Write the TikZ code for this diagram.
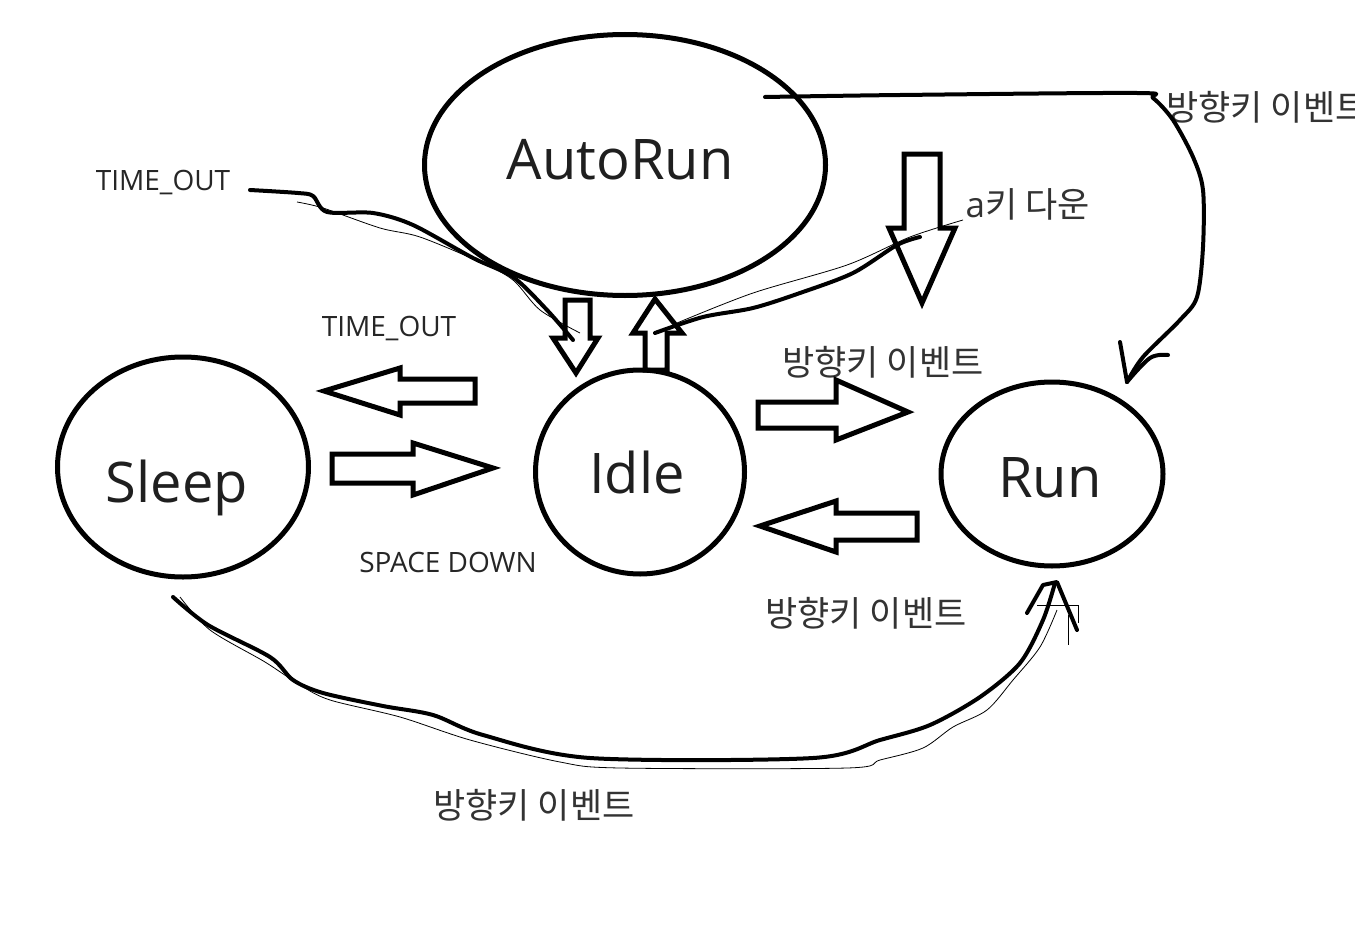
\documentclass[tikz,border=0pt]{standalone}
\usepackage{fontspec}
\setmainfont{Open Sans}
\newfontfamily\cjk{Noto Sans CJK KR}
\usetikzlibrary{shapes.geometric}
\tikzset{
  state/.style={ellipse, draw=black, line width=5pt, inner sep=0pt, outer sep=0pt},
  big/.style={text=black!88, font=\fontsize{56}{64}\selectfont},
  small/.style={text=black!85, font=\fontsize{28}{32}\selectfont},
  kor/.style={text=black!80, font=\cjk\fontsize{35}{40}\selectfont},
  blockarrow/.style={draw=black, line width=5pt, line join=miter},
  thickline/.style={draw=black, line width=4pt, line cap=round, line join=round},
  thinline/.style={draw=black, line width=0.8pt},
}
\begin{document}
\begin{tikzpicture}[x=1pt,y=-1pt]
\useasboundingbox (0,0) rectangle (1355,950);
\clip (0,0) rectangle (1355,950);
\fill[white] (0,0) rectangle (1355,950);

% states
\node[state, minimum width=401pt, minimum height=261pt] (autorun) at (625,165) {};
\node[state, minimum width=209pt, minimum height=204pt] (idle) at (640,472) {};
\node[state, minimum width=251pt, minimum height=220pt] (sleep) at (183,467) {};
\node[state, minimum width=222pt, minimum height=184pt] (run) at (1052,474) {};

\node[big] (tautorun) at (620,160) {AutoRun};
\node[big] (tidle) at (637,472) {Idle};
\node[big] (tsleep) at (177,488) {Sleep};
\node[big] (trun) at (1050,478) {Run};

% labels
\node[small] (l1) at (163,183) {TIME\_OUT};
\node[small] (l2) at (389,328) {TIME\_OUT};
\node[small] (l3) at (448,562) {SPACE DOWN};
\node[kor] (l4) at (883,362) {방향키 이벤트};
\node[kor] (l5) at (866,613) {방향키 이벤트};
\node[kor] (l6) at (534,805) {방향키 이벤트};
\node[kor, anchor=west] (l7) at (1163,107) {방향키 이벤트};
\node[kor, anchor=west] (l8) at (962,204) {{\fontspec{Open Sans}a}키 다운};

% block arrows
\draw[blockarrow] (475,379) -- (400,379) -- (400,368) -- (324,391) -- (400,415) -- (400,403) -- (475,403) -- cycle;
\draw[blockarrow] (332,454) -- (413,454) -- (413,443) -- (493,468) -- (413,495) -- (413,483) -- (332,483) -- cycle;
\draw[blockarrow] (758,402) -- (836,402) -- (836,380) -- (908,412) -- (836,440) -- (836,428) -- (758,428) -- cycle;
\draw[blockarrow] (917,513) -- (836,513) -- (836,501) -- (760,526) -- (836,552) -- (836,540) -- (917,540) -- cycle;
\draw[blockarrow] (565,300) -- (590,300) -- (590,338) -- (598,338) -- (576,373) -- (553,338) -- (565,338) -- cycle;
\draw[blockarrow] (645,370) -- (645,333) -- (633,333) -- (655,299) -- (682,333) -- (667,333) -- (667,370) -- cycle;
\draw[blockarrow] (904,154) -- (940,154) -- (940,228) -- (955,228) -- (922,303) -- (889,228) -- (904,228) -- cycle;

% TIME_OUT freehand (top left)
\draw[thickline] plot[smooth, tension=0.5] coordinates {(250,190) (298,193) (313,196) (327,212) (373,213) (413,225) (473,258) (513,277) (547,310) (573,340)};
\draw[thinline] plot[smooth, tension=0.5] coordinates {(297,202) (323,208) (380,228) (420,237) (480,262) (513,280) (540,310) (580,333)};

% a key freehand
\draw[thickline] plot[smooth, tension=0.5] coordinates {(920,237) (897,245) (853,273) (800,293) (753,308) (703,317) (655,333)};
\draw[thinline] plot[smooth, tension=0.5] coordinates {(963,220) (910,237) (847,265) (753,293) (677,323)};

% AutoRun -> Run freehand
\draw[thickline] plot[smooth, tension=0.5] coordinates {(765,97) (900,95) (1137,93) (1153,98) (1173,120) (1193,157) (1203,190) (1203,247) (1197,297) (1180,320) (1143,357) (1127,382)};
\draw[thickline] (1120,342) -- (1127,382);
\draw[thickline] plot[smooth, tension=0.6] coordinates {(1168,355) (1150,358) (1127,382)};

% Sleep -> Run freehand (bottom)
\draw[thickline] plot[smooth, tension=0.5] coordinates {(173,597) (208,625) (270,657) (293,680) (323,693) (383,706) (433,715) (483,735) (590,758) (813,758) (880,740) (930,725) (980,697) (1020,663) (1043,620) (1055,583)};
\draw[thinline] plot[smooth, tension=0.5] coordinates {(180,597) (210,630) (265,662) (300,685) (330,700) (400,717) (470,740) (560,762) (620,768) (847,768) (880,760) (923,748) (953,727) (987,710) (1013,680) (1040,647) (1057,610)};
\draw[thickline] (1027,613) -- (1043,585) -- (1057,582) -- (1077,630);
\draw[thinline] (1037,605) -- (1078,605) -- (1078,623);
\draw[thinline] (1068,615) -- (1068,645);
\end{tikzpicture}
\end{document}
